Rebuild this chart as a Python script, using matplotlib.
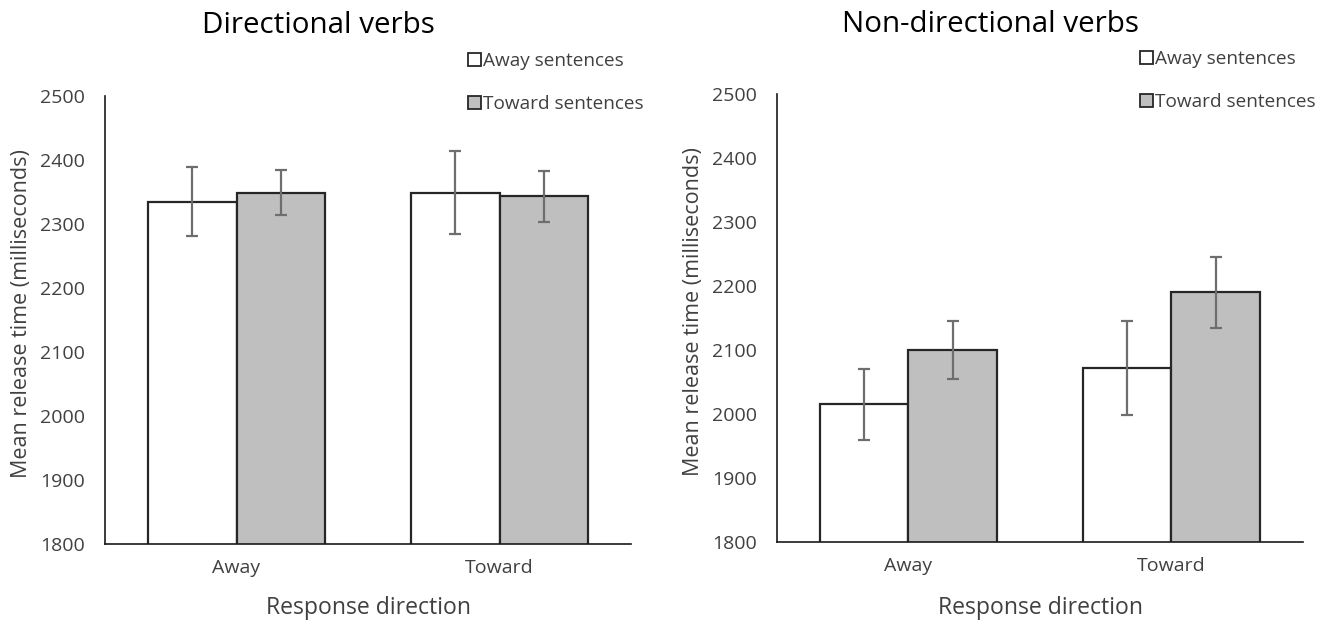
import numpy as np
import matplotlib.pyplot as plt
from matplotlib.patches import Patch

plt.rcParams['font.family'] = ['Open Sans', 'DejaVu Sans']

# data
groups = ['Away', 'Toward']
series = ['Away sentences', 'Toward sentences']
titles = ['Directional verbs', 'Non-directional verbs']

dir_away = [2335, 2349]
dir_toward = [2349, 2343]
dir_away_err = [54, 65]
dir_toward_err = [35, 40]

non_away = [2015, 2072]
non_toward = [2100, 2190]
non_away_err = [55, 73]
non_toward_err = [45, 56]

panels = [
    (dir_away, dir_toward, dir_away_err, dir_toward_err),
    (non_away, non_toward, non_away_err, non_toward_err),
]

W, H = 1328, 620
fig = plt.figure(figsize=(W / 100, H / 100), dpi=100)

# panel layout in pixels: axes left, bottom, top; title x; legend right; ylabel x
layout = [
    dict(left=105, bottom=544, top=96, title_x=318, title_y=33, leg_right=644, leg_top=52, ylab_x=22),
    dict(left=777, bottom=542, top=94, title_x=990, title_y=32, leg_right=1316, leg_top=50, ylab_x=694),
]
ax_w = 526

x = np.arange(len(groups))
w = 0.338
colors = ['white', '#bfbfbf']
txt = '#404040'

for lay, title, (a, t, ae, te) in zip(layout, titles, panels):
    ax = fig.add_axes([lay['left'] / W, (H - lay['bottom']) / H, ax_w / W,
                       (lay['bottom'] - lay['top']) / H])
    for vals, errs, off, c in [(a, ae, -w / 2, colors[0]), (t, te, w / 2, colors[1])]:
        ax.bar(x + off, vals, width=w, color=c, edgecolor='#262626', linewidth=1.6, zorder=2)
        ax.errorbar(x + off, vals, yerr=errs, fmt='none', ecolor='#6e6e6e',
                    elinewidth=1.6, capsize=4.3, capthick=1.6, zorder=3)
    ax.set_xlim(-0.5, 1.5)
    ax.set_ylim(1800, 2500)
    ax.set_yticks(np.arange(1800, 2501, 100))
    ax.set_xticks(x)
    ax.set_xticklabels(groups)
    ax.tick_params(length=0, labelsize=14, colors=txt)
    ax.tick_params(axis='y', pad=14.4)
    ax.tick_params(axis='x', pad=11)
    for s in ['top', 'right']:
        ax.spines[s].set_visible(False)
    for s in ['left', 'bottom']:
        ax.spines[s].set_color('#1a1a1a')
        ax.spines[s].set_linewidth(1.2)

    cx = (lay['left'] + ax_w / 2) / W
    cy = (H - (lay['bottom'] + lay['top']) / 2 + 6) / H
    fig.text(lay['title_x'] / W, (H - lay['title_y']) / H, title, fontsize=21.3,
             ha='center', va='baseline', color='black')
    fig.text(lay['ylab_x'] / W, cy, 'Mean release time (milliseconds)', fontsize=15.5,
             rotation=90, ha='center', va='center', color=txt)
    fig.text(cx, (H - 614) / H, 'Response direction', fontsize=16.6,
             ha='center', va='baseline', color=txt)

    handles = [Patch(facecolor=c, edgecolor='#262626', linewidth=1.3) for c in colors]
    fig.legend(handles, series, loc='upper right',
               bbox_to_anchor=(lay['leg_right'] / W, (H - lay['leg_top']) / H),
               bbox_transform=fig.transFigure, frameon=False, fontsize=13.7,
               handlelength=0.68, handleheight=0.68, handletextpad=0.15,
               labelspacing=1.3, borderaxespad=0, borderpad=0, labelcolor=txt)

fig.savefig('out.png', dpi=100)
